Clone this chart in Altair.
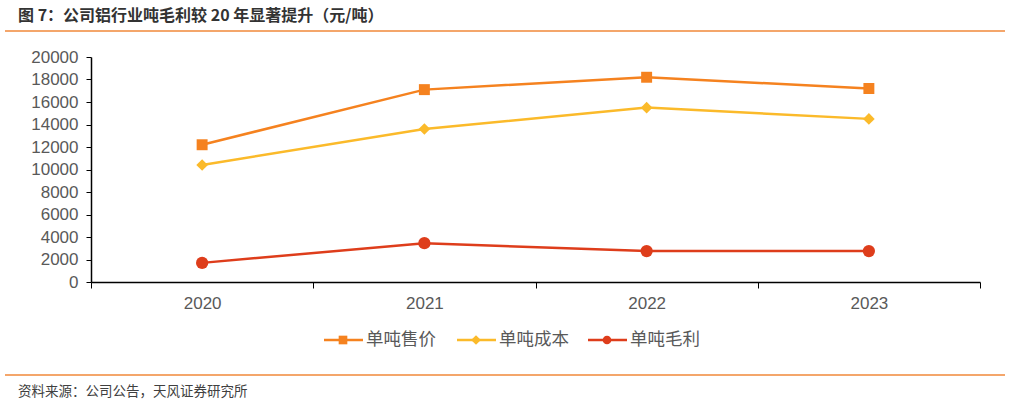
import altair as alt
import pandas as pd

years = ["2020", "2021", "2022", "2023"]
series_names = ["单吨售价", "单吨成本", "单吨毛利"]
price = [12200, 17100, 18200, 17200]
cost = [10400, 13600, 15500, 14500]
profit = [1700, 3450, 2750, 2750]
colors = ["#F5821F", "#FBBA2A", "#DE3D1B"]
shapes = ["square", "diamond", "circle"]
marker_sizes = [120, 150, 120]
y_ticks = list(range(0, 20001, 2000))
title_text = "图 7：公司铝行业吨毛利较 20 年显著提升（元/吨）"
source_text = "资料来源：公司公告，天风证券研究所"

rows = []
for name, vals in zip(series_names, [price, cost, profit]):
    for yr, v in zip(years, vals):
        rows.append({"year": yr, "series": name, "value": v})
df = pd.DataFrame(rows)

W, H = 889, 225
LABEL_FONT = "Liberation Sans"
CJK = "Noto Sans CJK SC"

x_enc = alt.X("year:N", sort=years, title=None,
              scale=alt.Scale(paddingInner=0, paddingOuter=0),
              axis=alt.Axis(labelAngle=0, tickBand="extent", domainColor="#000000",
                            domainWidth=1.5, tickColor="#000000", tickSize=6,
                            labelPadding=7, labelFont=LABEL_FONT, labelFontSize=17,
                            labelColor="#595959", grid=False))
y_enc = alt.Y("value:Q", title=None,
              scale=alt.Scale(domain=[0, 20000], nice=False),
              axis=alt.Axis(values=y_ticks, format="d", domainColor="#000000", domainWidth=1.5,
                            tickColor="#000000", tickSize=5, labelPadding=8,
                            labelFont=LABEL_FONT, labelFontSize=17,
                            labelColor="#595959", grid=False))
color_enc = alt.Color("series:N", scale=alt.Scale(domain=series_names, range=colors), legend=None)
shape_enc = alt.Shape("series:N", scale=alt.Scale(domain=series_names, range=shapes), legend=None)
size_enc = alt.Size("series:N", scale=alt.Scale(domain=series_names, range=marker_sizes), legend=None)

base = alt.Chart(df)
lines = base.mark_line(strokeWidth=2.5).encode(x=x_enc, y=y_enc, color=color_enc, detail="series:N")
points = base.mark_point(filled=True, opacity=1).encode(
    x=x_enc, y=y_enc, color=color_enc, shape=shape_enc, size=size_enc)

layers = [lines, points]

# custom legend
leg_x = [233, 366, 497]
leg_sizes = [75, 95, 75]
for name, col, shp, lx, ls in zip(series_names, colors, shapes, leg_x, leg_sizes):
    d = pd.DataFrame({"t": [name]})
    layers.append(alt.Chart(d).mark_rule(color=col, strokeWidth=2.5).encode(
        x=alt.value(lx), x2=alt.value(lx + 39), y=alt.value(283)))
    layers.append(alt.Chart(d).mark_point(filled=True, size=ls, opacity=1, color=col, shape=shp).encode(
        x=alt.value(lx + 19), y=alt.value(283)))
    layers.append(alt.Chart(d).mark_text(align="left", baseline="middle", font=CJK,
                                         fontSize=17.5, color="#595959").encode(
        x=alt.value(lx + 42), y=alt.value(283), text="t:N"))

# title, source and rules
layers.append(alt.Chart(pd.DataFrame({"t": [title_text]})).mark_text(
    align="left", baseline="middle", font=CJK, fontSize=16, fontWeight="bold", color="#333333").encode(
    x=alt.value(-73), y=alt.value(-41), text="t:N"))
layers.append(alt.Chart(pd.DataFrame({"t": [source_text]})).mark_text(
    align="left", baseline="middle", font=CJK, fontSize=13.5, color="#404040").encode(
    x=alt.value(-73), y=alt.value(335), text="t:N"))
layers.append(alt.Chart(pd.DataFrame({"t": [0]})).mark_rule(color="#F0883A", strokeWidth=1.5).encode(
    x=alt.value(-86), x2=alt.value(914), y=alt.value(-26)))
layers.append(alt.Chart(pd.DataFrame({"t": [0]})).mark_rule(color="#F0883A", strokeWidth=1.5).encode(
    x=alt.value(-86), x2=alt.value(914), y=alt.value(318)))

chart = alt.layer(*layers).properties(
    width=W, height=H,
    autosize=alt.AutoSizeParams(type="none"),
    padding={"left": 91, "top": 57, "right": 30, "bottom": 122},
    background="white",
).configure_view(stroke=None)

chart.save("out.html", embed_options={"renderer": "svg", "actions": False})
